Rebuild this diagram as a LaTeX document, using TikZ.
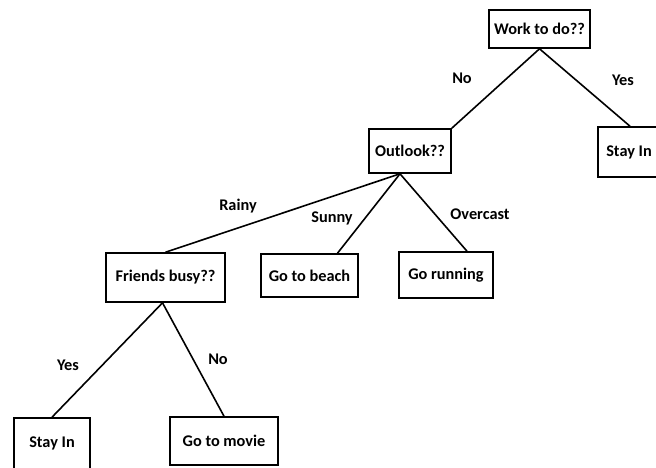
\documentclass[tikz,border=0pt]{standalone}
\usepackage{fontspec}
\setmainfont{Carlito}
\begin{document}
\begin{tikzpicture}[x=1pt,y=-1pt,line width=1.6pt]
    \tikzstyle{box}=[draw=black, rectangle, inner sep=0pt, fill=white, text=black, font=\bfseries\fontsize{16.3}{19}\selectfont]
    \tikzstyle{lbl}=[inner sep=0pt, text=black, font=\bfseries\fontsize{16.3}{19}\selectfont]

    \clip (0,0) rectangle (656,467);
    \useasboundingbox (0,0) rectangle (656,467);

    \node[box, minimum width=101, minimum height=38] (work)    at (539.5,29)  {Work to do??};
    \node[box, minimum width=76,  minimum height=50] (stayR)   at (636,152)   {\hspace*{-14pt}Stay In};
    \node[box, minimum width=82,  minimum height=44] (outlook) at (410,151)   {Outlook??};
    \node[box, minimum width=119, minimum height=49] (friends) at (165.5,277.5) {Friends busy??};
    \node[box, minimum width=97,  minimum height=43] (beach)   at (309.5,275.5) {Go to beach};
    \node[box, minimum width=94,  minimum height=46] (running) at (446,275)   {Go running};
    \node[box, minimum width=76,  minimum height=54] (stayL)   at (52,445)    {\raisebox{5pt}{Stay In}};
    \node[box, minimum width=108, minimum height=48] (movie)   at (224,441)   {Go to movie};

    \coordinate (hub) at ([xshift=-10]outlook.south);

    \node[lbl] (no1)   at (462,78)  {No};
    \node[lbl] (yes1)  at (623,80)  {Yes};
    \node[lbl] (rainy) at (238,206) {Rainy};
    \node[lbl] (sunny) at (332,218) {Sunny};
    \node[lbl] (over)  at (480,214) {Overcast};
    \node[lbl] (yes2)  at (68,365)  {Yes};
    \node[lbl] (no2)   at (218,359) {No};

    \path
     (work.south) edge[] (outlook.north east)
     (work.south) edge[] ([xshift=-6]stayR.north)
     (hub) edge[] (friends.north)
     (hub) edge[] ([xshift=28]beach.north)
     (hub) edge[] ([xshift=21]running.north)
     ([xshift=-3]friends.south) edge[] (stayL.north)
     ([xshift=-3]friends.south) edge[] (movie.north)
     ;
\end{tikzpicture}
\end{document}
